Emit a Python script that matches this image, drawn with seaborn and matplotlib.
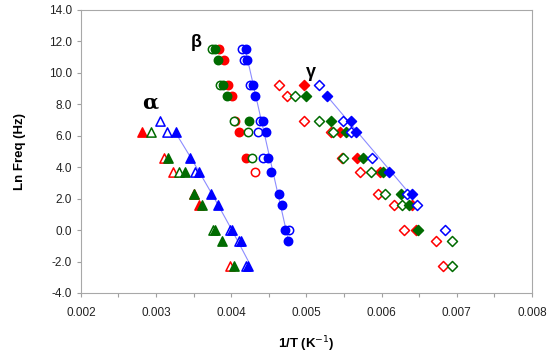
import numpy as np
import pandas as pd
import seaborn as sns
import matplotlib.pyplot as plt
from matplotlib.ticker import MultipleLocator, FormatStrFormatter

sns.set_style("white")
plt.rcParams['font.family'] = ['Liberation Sans', 'DejaVu Sans']
plt.rcParams['text.color'] = 'black'
plt.rcParams['axes.labelcolor'] = 'black'

# ---- data: (1/T, ln f) per series ----
# alpha relaxation (triangles)
alpha_red_filled_x = [0.00282, 0.00357]
alpha_red_filled_y = [6.21, 1.61]
alpha_red_open_x = [0.00310, 0.00323, 0.00350, 0.00398]
alpha_red_open_y = [4.61, 3.69, 2.30, -2.30]
alpha_green_filled_x = [0.00316, 0.00338, 0.00350, 0.00361, 0.00379, 0.00388, 0.00404]
alpha_green_filled_y = [4.61, 3.69, 2.30, 1.61, 0.0, -0.69, -2.30]
alpha_green_open_x = [0.00293, 0.00330, 0.00376]
alpha_green_open_y = [6.21, 3.69, 0.0]
alpha_blue_filled_x = [0.00327, 0.00345, 0.00357, 0.00373, 0.00383, 0.00401, 0.00413, 0.00423]
alpha_blue_filled_y = [6.21, 4.61, 3.69, 2.30, 1.61, 0.0, -0.69, -2.30]
alpha_blue_open_x = [0.00305, 0.00315, 0.00352, 0.00398, 0.00410, 0.00420]
alpha_blue_open_y = [6.91, 6.21, 3.69, 0.0, -0.69, -2.30]

# beta relaxation (circles)
beta_red_filled_x = [0.00384, 0.00390, 0.00396, 0.00401, 0.00405, 0.00411, 0.00420]
beta_red_filled_y = [11.51, 10.82, 9.21, 8.52, 6.91, 6.21, 4.61]
beta_red_open_x = [0.00432]
beta_red_open_y = [3.69]
beta_green_filled_x = [0.00378, 0.00382, 0.00389, 0.00395, 0.00424]
beta_green_filled_y = [11.51, 10.82, 9.21, 8.52, 6.91]
beta_green_open_x = [0.00375, 0.00385, 0.00404, 0.00423, 0.00428]
beta_green_open_y = [11.51, 9.21, 6.91, 6.21, 4.61]
beta_blue_filled_x = [0.00420, 0.00421, 0.00429, 0.00432, 0.00442, 0.00446,
                      0.00449, 0.00453, 0.00464, 0.00468, 0.00472, 0.00475]
beta_blue_filled_y = [11.51, 10.82, 9.21, 8.52, 6.91, 6.21,
                      4.61, 3.69, 2.30, 1.61, 0.0, -0.69]
beta_blue_open_x = [0.00414, 0.00417, 0.00425, 0.00438, 0.00436, 0.00442, 0.00477]
beta_blue_open_y = [11.51, 10.82, 9.21, 6.91, 6.21, 4.61, 0.0]

# gamma relaxation (diamonds)
gamma_red_filled_x = [0.00497, 0.00545, 0.00567, 0.00598, 0.00640, 0.00646]
gamma_red_filled_y = [9.21, 6.21, 4.61, 3.69, 1.61, 0.0]
gamma_red_open_x = [0.00463, 0.00474, 0.00497, 0.00533, 0.00548, 0.00572,
                    0.00595, 0.00617, 0.00630, 0.00673, 0.00682]
gamma_red_open_y = [9.21, 8.52, 6.91, 6.21, 4.61, 3.69, 2.30, 1.61, 0.0, -0.69, -2.30]
gamma_green_filled_x = [0.00500, 0.00533, 0.00553, 0.00576, 0.00602, 0.00626, 0.00636, 0.00648]
gamma_green_filled_y = [8.52, 6.91, 6.21, 4.61, 3.69, 2.30, 1.61, 0.0]
gamma_green_open_x = [0.00485, 0.00517, 0.00535, 0.00549, 0.00586, 0.00604, 0.00627, 0.00694, 0.00694]
gamma_green_open_y = [8.52, 6.91, 6.21, 4.61, 3.69, 2.30, 1.61, -0.69, -2.30]
gamma_blue_filled_x = [0.00528, 0.00559, 0.00566, 0.00610, 0.00640]
gamma_blue_filled_y = [8.52, 6.91, 6.21, 3.69, 2.30]
gamma_blue_open_x = [0.00517, 0.00549, 0.00560, 0.00588, 0.00634, 0.00647, 0.00685]
gamma_blue_open_y = [9.21, 6.91, 6.21, 4.61, 2.30, 1.61, 0.0]

RED = "#ff0000"
GREEN = "#006b00"
BLUE = "#0000ff"
FIT = "#8c8cff"

series = [
    # x, y, marker, colour, filled
    (alpha_red_open_x, alpha_red_open_y, "^", RED, False),
    (alpha_red_filled_x, alpha_red_filled_y, "^", RED, True),
    (alpha_green_open_x, alpha_green_open_y, "^", GREEN, False),
    (alpha_green_filled_x, alpha_green_filled_y, "^", GREEN, True),
    (alpha_blue_open_x, alpha_blue_open_y, "^", BLUE, False),
    (alpha_blue_filled_x, alpha_blue_filled_y, "^", BLUE, True),
    (beta_red_open_x, beta_red_open_y, "o", RED, False),
    (beta_red_filled_x, beta_red_filled_y, "o", RED, True),
    (beta_green_open_x, beta_green_open_y, "o", GREEN, False),
    (beta_green_filled_x, beta_green_filled_y, "o", GREEN, True),
    (beta_blue_open_x, beta_blue_open_y, "o", BLUE, False),
    (beta_blue_filled_x, beta_blue_filled_y, "o", BLUE, True),
    (gamma_red_open_x, gamma_red_open_y, "D", RED, False),
    (gamma_red_filled_x, gamma_red_filled_y, "D", RED, True),
    (gamma_green_open_x, gamma_green_open_y, "D", GREEN, False),
    (gamma_green_filled_x, gamma_green_filled_y, "D", GREEN, True),
    (gamma_blue_open_x, gamma_blue_open_y, "D", BLUE, False),
    (gamma_blue_filled_x, gamma_blue_filled_y, "D", BLUE, True),
]
marker_size = {"^": 44, "o": 36, "D": 26}

fig, ax = plt.subplots(figsize=(5.5, 3.56), dpi=100)
fig.subplots_adjust(left=0.147, right=0.967, top=0.972, bottom=0.177)

# trend lines through the blue filled points
def fit_line(xs, ys, deg):
    coef = np.polyfit(xs, ys, deg)
    xx = np.linspace(min(xs), max(xs), 60)
    return xx, np.polyval(coef, xx)

for xs, ys, deg in [(alpha_blue_filled_x, alpha_blue_filled_y, 2),
                    (beta_blue_filled_x, beta_blue_filled_y, 1),
                    (gamma_blue_filled_x, gamma_blue_filled_y, 1)]:
    fx, fy = fit_line(xs, ys, deg)
    sns.lineplot(x=fx, y=fy, ax=ax, color=FIT, lw=0.8, sort=False, zorder=1)

for xs, ys, mk, col, filled in series:
    sns.scatterplot(x=xs, y=ys, ax=ax, marker=mk, s=marker_size[mk],
                    facecolor=col if filled else "white", edgecolor=col,
                    linewidth=1.1, zorder=3)

ax.text(0.00292, 8.1, "α", fontsize=15, fontweight="bold", ha="center", va="center",
        family=["DejaVu Serif"])
ax.text(0.00354, 11.9, "β", fontsize=13, fontweight="bold", ha="center", va="center")
ax.text(0.00506, 10.05, "γ", fontsize=13, fontweight="bold", ha="center", va="center")

ax.set_xlim(0.002, 0.008)
ax.set_ylim(-4, 14)
ax.xaxis.set_major_locator(MultipleLocator(0.001))
ax.xaxis.set_minor_locator(MultipleLocator(0.0005))
ax.yaxis.set_major_locator(MultipleLocator(2))
ax.xaxis.set_major_formatter(FormatStrFormatter("%.3f"))
ax.yaxis.set_major_formatter(FormatStrFormatter("%.1f"))
ax.tick_params(axis="both", which="both", direction="out", length=3,
               color="#a0a0a0", labelsize=8.5, width=0.8, labelcolor="#222222")
ax.tick_params(axis="x", which="both", bottom=True, pad=7)
ax.tick_params(axis="y", left=True)

for sp in ax.spines.values():
    sp.set_color("#a8a8a8")
    sp.set_linewidth(0.8)

ax.set_xlabel("1/T (K$^{-1}$)", fontsize=9.5, fontweight="bold", labelpad=11)
ax.set_ylabel("Ln Freq (Hz)", fontsize=9.5, fontweight="bold", labelpad=16)

fig.savefig("out.png", dpi=100)
